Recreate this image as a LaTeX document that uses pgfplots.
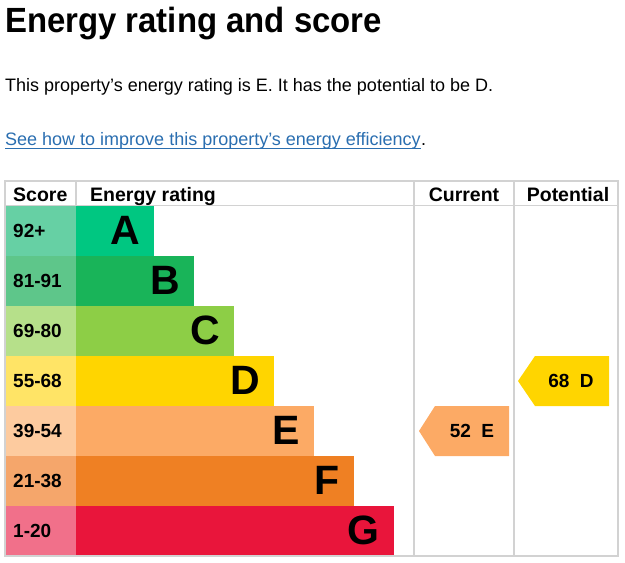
\documentclass[border=0pt]{standalone}
\usepackage{pgfplots}
\pgfplotsset{compat=1.18}
\usepackage{fontspec}
\usepackage{graphicx}
\setmainfont{Liberation Sans}

% EPC band colours (bar) and their lighter score-cell tints
\definecolor{bandA}{HTML}{00C781}\definecolor{cellA}{HTML}{66D0A4}
\definecolor{bandB}{HTML}{19B459}\definecolor{cellB}{HTML}{5EC68A}
\definecolor{bandC}{HTML}{8DCE46}\definecolor{cellC}{HTML}{B6E08A}
\definecolor{bandD}{HTML}{FFD500}\definecolor{cellD}{HTML}{FFE466}
\definecolor{bandE}{HTML}{FCAA65}\definecolor{cellE}{HTML}{FDCB9F}
\definecolor{bandF}{HTML}{EF8023}\definecolor{cellF}{HTML}{F5A66B}
\definecolor{bandG}{HTML}{E9153B}\definecolor{cellG}{HTML}{F1708A}
\definecolor{linkblue}{HTML}{2A6EB0}
\definecolor{rule}{HTML}{D2D2D2}

\newcommand\bandletter{\fontsize{41}{41}\selectfont\bfseries}
\newcommand\cellfont{\fontsize{19}{19}\selectfont\bfseries}
\newcommand\headfont{\fontsize{19.5}{19.5}\selectfont\bfseries}

\tikzset{
  score/.style={anchor=west, inner sep=0, font=\cellfont},
  letter/.style={anchor=east, inner sep=0, font=\bandletter},
}

\begin{document}
\begin{tikzpicture}
\begin{axis}[
  width=625pt, height=563pt, scale only axis,
  xmin=-76, xmax=549, ymin=0, ymax=563, y dir=reverse,
  hide axis, clip=false,
  every axis plot/.append style={draw=none},
]
\path (axis cs:-76,0) rectangle (axis cs:549,563);

% heading and intro text
\node[anchor=base west, inner sep=0, font=\fontsize{35}{35}\selectfont\bfseries]
  at (axis cs:-71,32.5) {\scalebox{0.94}[1]{Energy rating and score}};
\node[anchor=base west, inner sep=0, font=\fontsize{18}{18}\selectfont]
  at (axis cs:-71,91) {This property’s energy rating is E. It has the potential to be D.};
\node[anchor=base west, inner sep=0, font=\fontsize{18}{18}\selectfont, text=linkblue]
  (link) at (axis cs:-71,145) {See how to improve this property’s energy efficiency};
\node[anchor=base west, inner sep=0, font=\fontsize{18}{18}\selectfont] at (link.base east) {.};
\draw[linkblue, line width=1.3pt] ([yshift=-3.5pt]link.base west) -- ([yshift=-3.5pt]link.base east);

% score cells (left column)
\addplot[xbar, bar width=50pt, bar shift=0pt, fill=cellA] coordinates {(-71,231)};
\addplot[xbar, bar width=50pt, bar shift=0pt, fill=cellB] coordinates {(-71,281)};
\addplot[xbar, bar width=50pt, bar shift=0pt, fill=cellC] coordinates {(-71,331)};
\addplot[xbar, bar width=50pt, bar shift=0pt, fill=cellD] coordinates {(-71,381)};
\addplot[xbar, bar width=50pt, bar shift=0pt, fill=cellE] coordinates {(-71,431)};
\addplot[xbar, bar width=50pt, bar shift=0pt, fill=cellF] coordinates {(-71,481)};
\addplot[xbar, bar width=50pt, bar shift=0pt, fill=cellG] coordinates {(-71,531)};

% rating bars
\addplot[xbar, bar width=50pt, bar shift=0pt, fill=bandA] coordinates {(78,231)};
\addplot[xbar, bar width=50pt, bar shift=0pt, fill=bandB] coordinates {(118,281)};
\addplot[xbar, bar width=50pt, bar shift=0pt, fill=bandC] coordinates {(158,331)};
\addplot[xbar, bar width=50pt, bar shift=0pt, fill=bandD] coordinates {(198,381)};
\addplot[xbar, bar width=50pt, bar shift=0pt, fill=bandE] coordinates {(238,431)};
\addplot[xbar, bar width=50pt, bar shift=0pt, fill=bandF] coordinates {(278,481)};
\addplot[xbar, bar width=50pt, bar shift=0pt, fill=bandG] coordinates {(318,531)};

% score ranges
\node[score] at (axis cs:-63,231) {92+};
\node[score] at (axis cs:-63,281) {81-91};
\node[score] at (axis cs:-63,331) {69-80};
\node[score] at (axis cs:-63,381) {55-68};
\node[score] at (axis cs:-63,431) {39-54};
\node[score] at (axis cs:-63,481) {21-38};
\node[score] at (axis cs:-63,531) {1-20};

% band letters
\node[letter] at (axis cs:64,230.5) {A};
\node[letter] at (axis cs:104,280.5) {B};
\node[letter] at (axis cs:144,330.5) {C};
\node[letter] at (axis cs:184,380.5) {D};
\node[letter] at (axis cs:224,430.5) {E};
\node[letter] at (axis cs:264,480.5) {F};
\node[letter] at (axis cs:304,530.5) {G};

% current and potential pointers
\addplot[fill=bandE] coordinates {(343,431) (359,406) (433,406) (433,456) (359,456)} -- cycle;
\addplot[fill=bandD] coordinates {(442,381) (459,356) (533,356) (533,406) (459,406)} -- cycle;
\node[inner sep=0, font=\cellfont] at (axis cs:396,431) {52\hspace{0.55em}E};
\node[inner sep=0, font=\cellfont] at (axis cs:495,381) {68\hspace{0.55em}D};

% table rules
\draw[rule, line width=1.5pt] (axis cs:-71,181) rectangle (axis cs:542,556);
\draw[rule, line width=1.5pt] (axis cs:-71,205.5) -- (axis cs:542,205.5);
\draw[rule, line width=1.5pt] (axis cs:0,181) -- (axis cs:0,205.5);
\draw[rule, line width=1.5pt] (axis cs:338,181) -- (axis cs:338,556);
\draw[rule, line width=1.5pt] (axis cs:438,181) -- (axis cs:438,556);

% column headings
\node[anchor=base west, inner sep=0, font=\headfont] at (axis cs:-63,201) {Score};
\node[anchor=base west, inner sep=0, font=\headfont] at (axis cs:14,201) {Energy rating};
\node[anchor=base, inner sep=0, font=\headfont] at (axis cs:388,201) {Current};
\node[anchor=base, inner sep=0, font=\headfont] at (axis cs:492,201) {Potential};
\end{axis}
\end{tikzpicture}
\end{document}
